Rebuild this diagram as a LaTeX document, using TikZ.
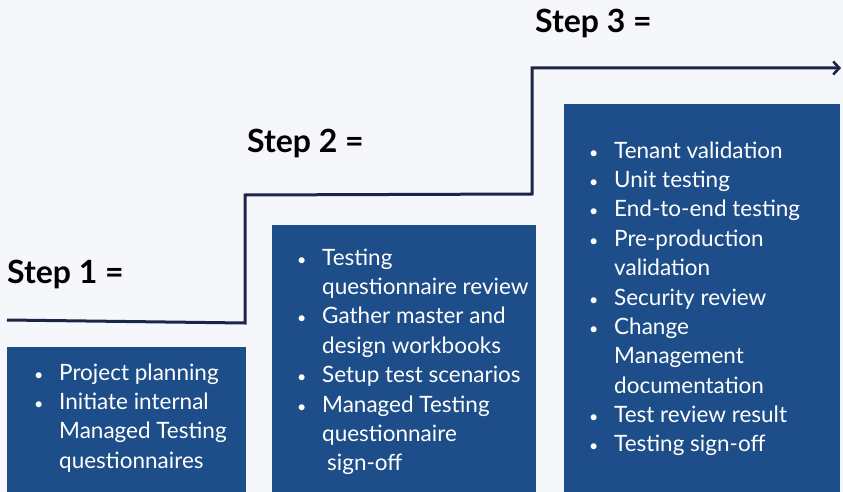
\documentclass[tikz,border=0pt]{standalone}
\usepackage{fontspec}
\setmainfont{Lato}
\usetikzlibrary{arrows.meta,positioning}
\definecolor{pagebg}{RGB}{246,247,251}
\definecolor{stairline}{RGB}{27,37,72}
\definecolor{boxblue}{RGB}{29,78,137}
\tikzset{>={Straight Barb[length=6pt,width=13pt,line width=2.6pt]}}
\tikzset{
  stepbox/.style={fill=boxblue,draw=none,inner sep=0pt,anchor=north west},
  steplabel/.style={anchor=base west,inner sep=0pt,font=\fontsize{32}{36}\selectfont\bfseries},
  steplist/.style={anchor=base west,inner sep=0pt,text=white,font=\fontsize{22.5}{29.4}\selectfont},
  stair/.style={draw=stairline,line width=3pt},
}
\newcommand{\bul}{\makebox[25pt][l]{\fontsize{16}{16}\selectfont\textbullet}}

\begin{document}
\begin{tikzpicture}[x=1pt,y=-1pt]
  \useasboundingbox[fill=pagebg] (0,0) rectangle (843,492);
  % Boxes
  \node[stepbox,minimum width=239pt,minimum height=145pt] (box1) at (7,347) {};
  \node[stepbox,minimum width=264pt,minimum height=267pt] (box2) at (272,225) {};
  \node[stepbox,minimum width=276pt,minimum height=388pt] (box3) at (564,104) {};
  % Labels
  \node[steplabel] (lab1) at (7,283) {Step 1 =};
  \node[steplabel] (lab2) at (247,153) {Step 2 =};
  \node[steplabel] (lab3) at (535,33) {Step 3 =};
  % Lists
  \node[steplist] (list1) at (34,380) {\begin{tabular}[t]{@{}l@{}l@{}}
    \bul & Project planning\\
    \bul & Initiate internal\\
         & Managed Testing\\
         & questionnaires
  \end{tabular}};
  \node[steplist] (list2) at (297,265) {\begin{tabular}[t]{@{}l@{}l@{}}
    \bul & Testing\\
         & questionnaire review\\
    \bul & Gather master and\\
         & design workbooks\\
    \bul & Setup test scenarios\\
    \bul & Managed Testing\\
         & questionnaire\\
         & \hspace{5pt}sign-off
  \end{tabular}};
  \node[steplist] (list3) at (589,158) {\begin{tabular}[t]{@{}l@{}l@{}}
    \bul & Tenant validation\\
    \bul & Unit testing\\
    \bul & End-to-end testing\\
    \bul & Pre-production\\
         & validation\\
    \bul & Security review\\
    \bul & Change\\
         & Management\\
         & documentation\\
    \bul & Test review result\\
    \bul & Testing sign-off
  \end{tabular}};
  % Staircase
  \coordinate (s0) at (7,320);
  \coordinate (s1) at (245,323);
  \coordinate (s2) at (245,195);
  \coordinate (s3) at (532,194);
  \coordinate (s4) at (532,68);
  \coordinate (s5) at (841,68);
  \draw[stair,->] (s0) -- (s1) -- (s2) -- (s3) -- (s4) -- (s5);
\end{tikzpicture}
\end{document}
